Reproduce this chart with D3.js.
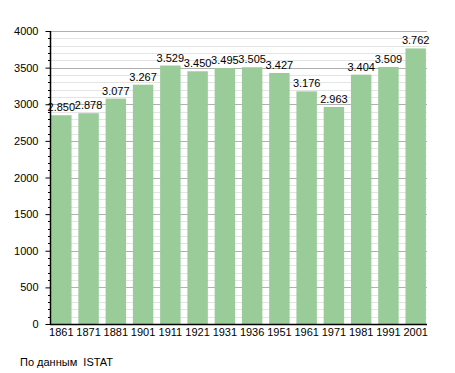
<!DOCTYPE html>
<html>
<head>
<meta charset="utf-8">
<script src="https://cdn.jsdelivr.net/npm/d3@7"></script>
<style>
  body { margin: 0; background: #fff; }
  text { font-family: "Liberation Sans", Arial, sans-serif; }
</style>
</head>
<body>
<div id="chart"></div>
<script>
const years = ['1861', '1871', '1881', '1901', '1911', '1921', '1931', '1936', '1951', '1961', '1971', '1981', '1991', '2001'];
const population = [2850, 2878, 3077, 3267, 3529, 3450, 3495, 3505, 3427, 3176, 2963, 3404, 3509, 3762];
const majorTicks = [0, 500, 1000, 1500, 2000, 2500, 3000, 3500, 4000];
const sourceNote = 'По данным  ISTAT';

const width = 455, height = 373;
const plotLeft = 50, plotRight = 427, plotTop = 31, plotBottom = 324;

const svg = d3.select('#chart').append('svg')
	.attr('width', width)
	.attr('height', height);

const x = d3.scaleBand()
	.domain(years)
	.range([plotLeft, plotRight])
	.paddingInner(0.25)
	.paddingOuter(0.04);

const y = d3.scaleLinear()
	.domain([0, 4000])
	.range([plotBottom, plotTop]);

// minor grid every 100
const minor = d3.range(0, 4001, 100).filter(v => v % 500 !== 0);
svg.selectAll('.minor')
	.data(minor)
	.enter().append('line')
	.attr('x1', plotLeft).attr('x2', plotRight)
	.attr('y1', d => Math.round(y(d)) + 0.5)
	.attr('y2', d => Math.round(y(d)) + 0.5)
	.style('stroke', '#e4e4e4')
	.style('stroke-width', 1);

svg.selectAll('.major')
	.data(majorTicks.filter(d => d > 0))
	.enter().append('line')
	.attr('x1', plotLeft).attr('x2', plotRight)
	.attr('y1', d => Math.round(y(d)) + 0.5)
	.attr('y2', d => Math.round(y(d)) + 0.5)
	.style('stroke', '#b0b0b0')
	.style('stroke-width', 1);

// bars
svg.selectAll('.bar')
	.data(population)
	.enter().append('rect')
	.attr('x', (d, i) => x(years[i]))
	.attr('y', d => y(d))
	.attr('width', x.bandwidth())
	.attr('height', d => y(0) - y(d))
	.style('fill', '#99cc99');

// value labels
const fmt = d => d3.format(',')(d).replace(',', '.');
svg.selectAll('.val')
	.data(population)
	.enter().append('text')
	.attr('x', (d, i) => x(years[i]) + x.bandwidth() / 2)
	.attr('y', d => y(d) - 4)
	.attr('text-anchor', 'middle')
	.style('font-size', '11px')
	.text(fmt);

// y axis
const yAxis = d3.axisLeft(y).tickValues(majorTicks).tickSize(5).tickFormat(d3.format('d'));
const gy = svg.append('g')
	.attr('transform', `translate(${plotLeft + 0.5},0)`)
	.call(yAxis);
gy.select('.domain').remove();
gy.selectAll('text').style('font-size', '11px').style('font-family', '"Liberation Sans", Arial, sans-serif').attr('x', -12);
gy.selectAll('line').style('stroke', '#000');

// minor ticks on the axis
svg.selectAll('.mtick')
	.data(minor)
	.enter().append('line')
	.attr('x1', plotLeft - 2).attr('x2', plotLeft)
	.attr('y1', d => Math.round(y(d)) + 0.5)
	.attr('y2', d => Math.round(y(d)) + 0.5)
	.style('stroke', '#000');

svg.append('line')
	.attr('x1', plotLeft + 0.5).attr('x2', plotLeft + 0.5)
	.attr('y1', plotTop).attr('y2', plotBottom + 1)
	.style('stroke', '#000')
	.style('stroke-width', 1.5);

svg.append('line')
	.attr('x1', plotLeft).attr('x2', plotRight)
	.attr('y1', plotBottom + 0.5).attr('y2', plotBottom + 0.5)
	.style('stroke', '#000')
	.style('stroke-width', 1.5);

// x labels
svg.selectAll('.xl')
	.data(years)
	.enter().append('text')
	.attr('x', d => x(d) + x.bandwidth() / 2)
	.attr('y', plotBottom + 12)
	.attr('text-anchor', 'middle')
	.style('font-size', '11px')
	.text(d => d);

svg.append('text')
	.attr('x', 20)
	.attr('y', 366)
	.style('font-size', '11px')
	.style('white-space', 'pre')
	.text(sourceNote);
</script>
</body>
</html>
